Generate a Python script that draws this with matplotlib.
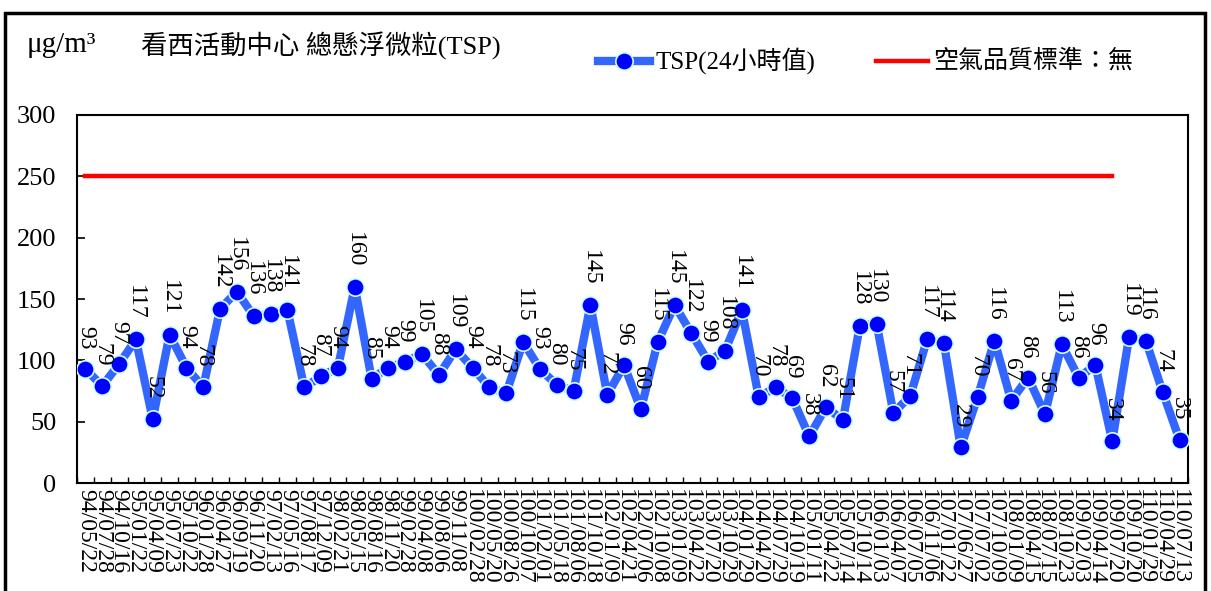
import numpy as np
import matplotlib
matplotlib.use('Agg')
import matplotlib.pyplot as plt
from matplotlib.lines import Line2D
from matplotlib.patches import Rectangle

plt.rcParams['font.family'] = ['Liberation Serif', 'Noto Sans CJK TC', 'DejaVu Sans']

# sampling dates (ROC calendar)
dates = ['94/05/22', '94/07/28', '94/10/16',
         '95/01/22', '95/04/09', '95/07/23', '95/10/22',
         '96/01/28', '96/04/27', '96/09/19', '96/11/20',
         '97/02/13', '97/05/16', '97/08/17', '97/12/09',
         '98/02/21', '98/05/15', '98/08/16', '98/11/20',
         '99/02/28', '99/04/08', '99/08/06', '99/11/08',
         '100/02/28', '100/05/20', '100/08/26', '100/10/07',
         '101/02/01', '101/05/18', '101/08/06', '101/10/18',
         '102/01/09', '102/04/21', '102/07/06', '102/10/08',
         '103/01/09', '103/04/22', '103/07/20', '103/10/29',
         '104/01/29', '104/04/20', '104/07/29', '104/10/19',
         '105/01/11', '105/04/22', '105/07/14', '105/10/14',
         '106/01/03', '106/04/07', '106/07/05', '106/11/06',
         '107/01/22', '107/06/27', '107/07/02', '107/10/09',
         '108/01/09', '108/04/15', '108/07/15', '108/10/23',
         '109/02/03', '109/04/14', '109/07/20', '109/10/20',
         '110/01/29', '110/04/29', '110/07/13']

# TSP 24h values (ug/m3)
tsp = [93, 79, 97, 117, 52, 121, 94, 78, 142, 156,
       136, 138, 141, 78, 87, 94, 160, 85, 94, 99,
       105, 88, 109, 94, 78, 73, 115, 93, 80, 75,
       145, 72, 96, 60, 115, 145, 122, 99, 108, 141,
       70, 78, 69, 38, 62, 51, 128, 130, 57, 71,
       117, 114, 29, 70, 116, 67, 86, 56, 113, 86,
       96, 34, 119, 116, 74, 35]

# air quality standard line (drawn over the first 62 samples)
std_value = 250
std_count = 62

fig = plt.figure(figsize=(12.11, 5.91), dpi=100)
ax = fig.add_axes([77/1211, 1-483/591, (1188-77)/1211, (483-115)/591])

x = np.arange(len(tsp))
ax.plot(x[:std_count], [std_value]*std_count, color='#ff0000', lw=3.2, zorder=2)
ax.plot(x, tsp, color='#3366ff', lw=6, marker='o', ms=12.5,
        mfc='#0000ff', mec='#ccffff', mew=1.2, zorder=3)

# data labels, rotated
for xi, v in zip(x, tsp):
    ax.annotate(str(v), (xi, v), xytext=(0, 14), textcoords='offset points',
                rotation=270, ha='center', va='bottom', fontsize=17)

ax.set_xlim(-0.5, len(tsp)-0.5)
ax.set_ylim(0, 300)
ax.set_yticks(range(0, 301, 50))
ax.tick_params(axis='y', direction='in', length=6, width=1.2, labelsize=19, pad=15)
ax.set_xticks(x)
ax.set_xticklabels(dates, rotation=270, fontsize=17)
ax.tick_params(axis='x', which='major', length=0, pad=4)
ax.set_xticks(np.arange(-0.5, len(tsp)), minor=True)
ax.tick_params(axis='x', which='minor', direction='in', length=4, width=1)
for s in ax.spines.values():
    s.set_linewidth(1.5)

# header texts
fig.text(27/1211, 1-45/591, 'μg/m³', fontsize=21, va='center', ha='left')
fig.text(141/1211, 1-45/591, '看西活動中心 總懸浮微粒(TSP)', fontsize=19, va='center', ha='left')

# manual legend
ly = 1-61/591
fig.add_artist(Line2D([598/1211, 650/1211], [ly, ly], color='#3366ff', lw=6,
                      transform=fig.transFigure))
fig.add_artist(Line2D([624/1211], [ly], marker='o', ms=12.5, mfc='#0000ff', mec='#ccffff',
                      mew=1.2, transform=fig.transFigure))
fig.text(655/1211, ly, 'TSP(24小時值)', fontsize=18, va='center', ha='left')
fig.add_artist(Line2D([876/1211, 928/1211], [ly, ly], color='#ff0000', lw=3.2,
                      transform=fig.transFigure))
fig.text(933/1211, ly, '空氣品質標準：無', fontsize=18, va='center', ha='left')

# outer frame
fig.add_artist(Rectangle((4.5/1211, -0.1), (1205-4.5)/1211, 1.1-13.5/591, fill=False,
                         ec='black', lw=2.5, transform=fig.transFigure))

fig.savefig('out.png', dpi=100)
